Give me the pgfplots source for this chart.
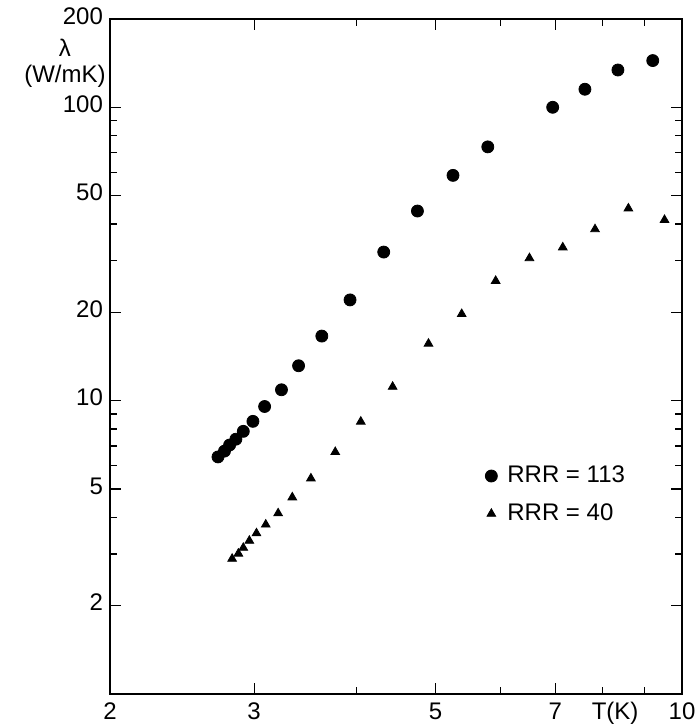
\documentclass[border=0pt]{standalone}
\usepackage{fontspec}
\setmainfont{Liberation Sans}
\usepackage{pgfplots}
\pgfplotsset{compat=1.18}
\newcommand\lab{\fontsize{12}{13}\selectfont}
\begin{document}
\begin{tikzpicture}
\begin{axis}[
    scale only axis, width=286pt, height=337.5pt,
    xmode=log, ymode=log,
    xmin=2, xmax=10, ymin=1, ymax=200,
    axis line style={line width=0.7pt},
    tick style={line width=0.6pt, black},
    major tick length=5.5pt, minor tick length=3.5pt,
    xtick={2,3,5,7,10}, xticklabels={2,3,5,7,10},
    minor xtick={4,6,8,9},
    ytick={2,5,10,20,50,100,200}, yticklabels={2,5,10,20,50,100,200},
    minor ytick={3,4,6,7,8,9,30,40,60,70,80,90},
    typeset ticklabels with strut,
    /pgf/number format/assume math mode=true,
    tick label style={font=\lab},
    xlabel={\strut T(K)},
    every axis x label/.style={at={(rel axis cs:0.883,0)}, anchor=north, font=\lab},
    ylabel={λ\\(W/mK)},
    every axis y label/.style={at={(rel axis cs:0,0.935)}, anchor=east, align=center,
        inner sep=0pt, xshift=-2pt, font=\lab},
    legend style={draw=none, fill=none, at={(rel axis cs:0.645,0.35)}, anchor=north west,
        font=\lab, row sep=5pt, column sep=3pt},
    legend cell align=left,
]
\addplot[only marks, mark=*, mark size=3pt, black] coordinates {
(2.71,6.43) (2.76,6.73) (2.80,7.06) (2.85,7.39) (2.91,7.86) (2.99,8.50)
(3.09,9.55) (3.24,10.89) (3.40,13.15) (3.63,16.6) (3.93,22.05) (4.32,32.1)
(4.75,44.3) (5.25,58.6) (5.79,73.3) (6.95,100) (7.61,115.2) (8.35,134) (9.21,144.3)
};
\addlegendentry{RRR = 113}
\addplot[only marks, mark=triangle*, mark size=2.5pt, black] coordinates {
(2.82,2.89) (2.87,3.01) (2.91,3.15) (2.96,3.33) (3.02,3.53) (3.10,3.78)
(3.21,4.13) (3.34,4.68) (3.52,5.43) (3.77,6.68) (4.05,8.48) (4.43,11.15)
(4.90,15.64) (5.38,19.74) (5.92,25.6) (6.51,30.6) (7.15,33.3) (7.83,38.4)
(8.60,45.2) (9.52,41.3)
};
\addlegendentry{RRR = 40}
\end{axis}
\pgfresetboundingbox
\path ([shift={(-55pt,-16.5pt)}]current axis.south west) rectangle ([shift={(8pt,9.5pt)}]current axis.north east);
\end{tikzpicture}
\end{document}
